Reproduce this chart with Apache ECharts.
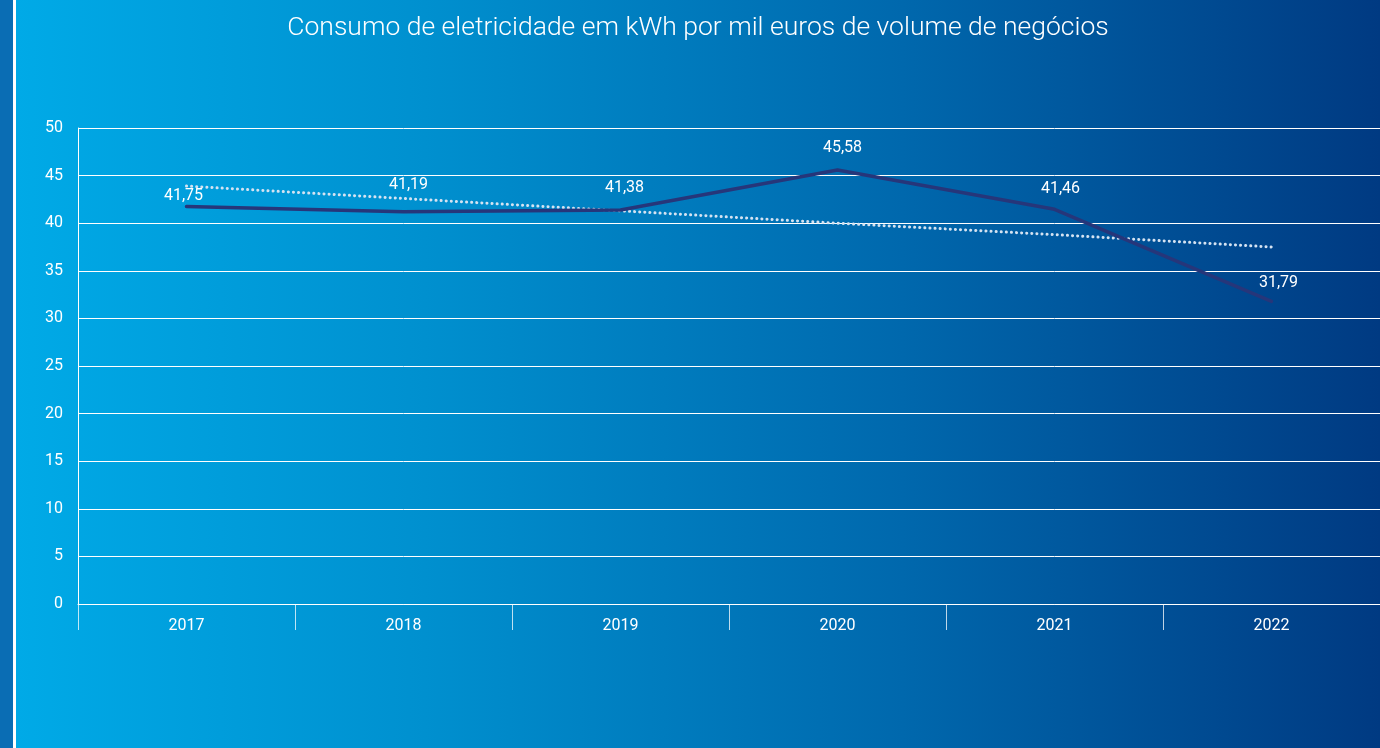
<!DOCTYPE html>
<html>
<head>
<meta charset="utf-8">
<script src="https://cdn.jsdelivr.net/npm/echarts@6/dist/echarts.min.js"></script>
<style>
html,body{margin:0;padding:0;width:1380px;height:748px;overflow:hidden;background:#0a6db4;}
#wrap{position:absolute;left:0;top:0;width:1380px;height:748px;}
#strip{position:absolute;left:0;top:0;width:13px;height:748px;background:#0a6db4;}
#sep{position:absolute;left:13px;top:0;width:3px;height:748px;background:#ffffff;}
#chart{position:absolute;left:16px;top:0;width:1364px;height:748px;background:linear-gradient(to right,#00aae7 0%,#0090cf 30%,#0068ad 65%,#003a82 100%);}
</style>
</head>
<body>
<div id="wrap"><div id="strip"></div><div id="sep"></div><div id="chart"></div></div>
<script>
const categories = ['2017','2018','2019','2020','2021','2022'];
const consumo = [41.75, 41.19, 41.38, 45.58, 41.46, 31.79];
const tendencia = [43.9, 42.6, 41.3, 40.0, 38.8, 37.5];
const yTicks = [0, 5, 10, 15, 20, 25, 30, 35, 40, 45, 50];
const titleText = 'Consumo de eletricidade em kWh por mil euros de volume de negócios';

// label placement relative to each point (style, not data)
const labelShift = [[-3, -11], [5, -27], [4, -22], [5, -22], [6, -20], [7, -18]];

const chart = echarts.init(document.getElementById('chart'), null, {renderer: 'canvas'});
chart.setOption({
  backgroundColor: 'transparent',
  animation: false,
  title: {
    text: titleText,
    left: 'center',
    top: 10,
    textStyle: {color: '#ffffff', fontFamily: 'Roboto', fontWeight: 300, fontSize: 26.5}
  },
  grid: {left: 62, right: 0, top: 128, bottom: 144, containLabel: false},
  xAxis: {
    type: 'category',
    data: categories,
    boundaryGap: true,
    axisLine: {show: true, lineStyle: {color: '#ffffff', width: 1}},
    axisTick: {show: true, length: 26, alignWithLabel: false, lineStyle: {color: 'rgba(255,255,255,0.75)', width: 1}},
    axisLabel: {color: '#ffffff', fontFamily: 'Roboto', fontSize: 16, margin: 14}
  },
  yAxis: {
    type: 'value',
    min: yTicks[0],
    max: yTicks[yTicks.length - 1],
    interval: 5,
    axisLine: {show: true, lineStyle: {color: '#ffffff', width: 1}},
    axisTick: {show: false},
    splitLine: {show: true, lineStyle: {color: '#ffffff', width: 1}},
    axisLabel: {color: '#ffffff', fontFamily: 'Roboto', fontSize: 16, margin: 15}
  },
  series: [
    {
      name: 'Tendência',
      type: 'line',
      data: tendencia,
      symbol: 'none',
      z: 3,
      lineStyle: {color: '#d5e3f2', width: 3, type: [0.1, 5], cap: 'round'}
    },
    {
      name: 'Consumo',
      type: 'line',
      data: consumo.map((v, i) => ({
        value: v,
        label: {position: [0.5 + labelShift[i][0], 0.5 + labelShift[i][1]]}
      })),
      symbol: 'circle',
      symbolSize: 1,
      showSymbol: true,
      itemStyle: {color: 'rgba(0,0,0,0)'},
      z: 4,
      lineStyle: {color: '#26367a', width: 3.5, cap: 'round'},
      label: {
        show: true,
        align: 'center',
        verticalAlign: 'middle',
        color: '#ffffff',
        fontFamily: 'Roboto',
        fontSize: 16,
        formatter: p => p.value.toFixed(2).replace('.', ',')
      },
      labelLayout: {hideOverlap: false}
    }
  ]
});
</script>
</body>
</html>
